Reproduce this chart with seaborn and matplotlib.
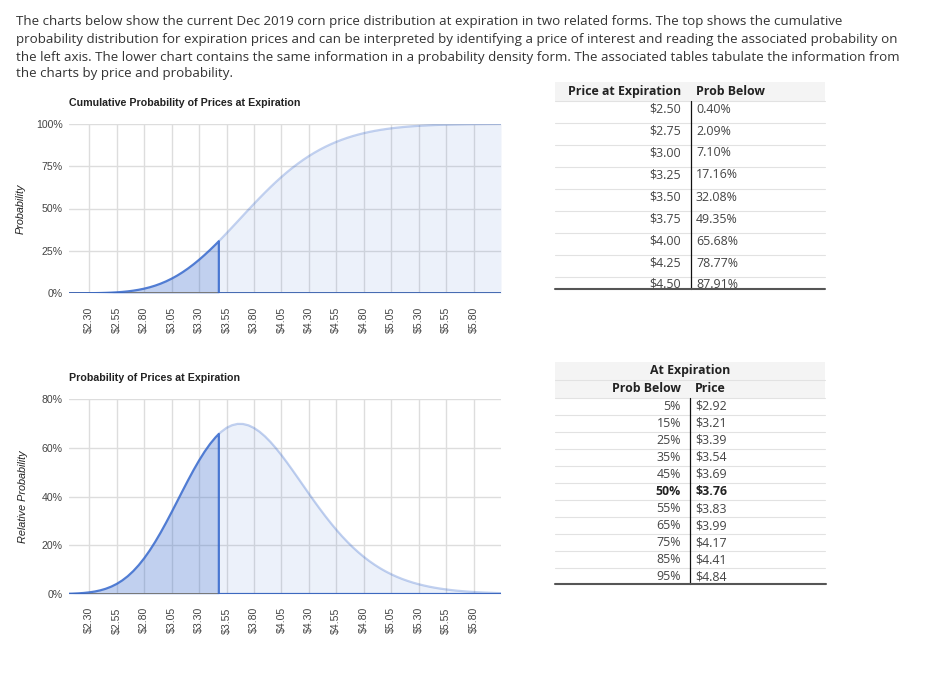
import matplotlib
matplotlib.use("Agg")
import matplotlib.pyplot as plt
from matplotlib.lines import Line2D
from matplotlib.patches import Rectangle
import seaborn as sns
import pandas as pd

# ---------------- data ----------------
prices = [2.10, 2.15, 2.20, 2.25, 2.30, 2.35, 2.40, 2.45, 2.50, 2.55,
          2.60, 2.65, 2.70, 2.75, 2.80, 2.85, 2.90, 2.95, 3.00, 3.05,
          3.10, 3.15, 3.20, 3.25, 3.30, 3.35, 3.40, 3.45, 3.50, 3.55,
          3.60, 3.65, 3.70, 3.75, 3.80, 3.85, 3.90, 3.95, 4.00, 4.05,
          4.10, 4.15, 4.20, 4.25, 4.30, 4.35, 4.40, 4.45, 4.50, 4.55,
          4.60, 4.65, 4.70, 4.75, 4.80, 4.85, 4.90, 4.95, 5.00, 5.05,
          5.10, 5.15, 5.20, 5.25, 5.30, 5.35, 5.40, 5.45, 5.50, 5.55,
          5.60, 5.65, 5.70, 5.75, 5.80, 5.85, 5.90, 5.95, 6.00, 6.05]
cum_prob = [0.01, 0.01, 0.02, 0.04, 0.07, 0.11, 0.17, 0.26, 0.39, 0.57,
            0.81, 1.13, 1.55, 2.08, 2.74, 3.55, 4.53, 5.70, 7.06, 8.64,
            10.42, 12.44, 14.67, 17.12, 19.76, 22.60, 25.60, 28.75, 32.03, 35.41,
            38.85, 42.33, 45.83, 49.31, 52.75, 56.12, 59.41, 62.60, 65.66, 68.58,
            71.36, 73.99, 76.45, 78.76, 80.90, 82.88, 84.71, 86.38, 87.90, 89.30,
            90.55, 91.68, 92.70, 93.61, 94.42, 95.14, 95.78, 96.34, 96.83, 97.27,
            97.65, 97.98, 98.27, 98.52, 98.73, 98.92, 99.08, 99.22, 99.34, 99.44,
            99.53, 99.60, 99.66, 99.72, 99.76, 99.80, 99.83, 99.86, 99.88, 99.90]
density = [0.09, 0.16, 0.27, 0.43, 0.67, 1.02, 1.50, 2.16, 3.03, 4.15,
           5.57, 7.30, 9.39, 11.85, 14.68, 17.88, 21.42, 25.26, 29.36, 33.64,
           38.02, 42.43, 46.77, 50.95, 54.87, 58.47, 61.66, 64.38, 66.59, 68.26,
           69.35, 69.89, 69.86, 69.30, 68.23, 66.71, 64.78, 62.49, 59.90, 57.08,
           54.07, 50.93, 47.72, 44.48, 41.24, 38.06, 34.97, 31.98, 29.12, 26.40,
           23.84, 21.45, 19.22, 17.17, 15.28, 13.55, 11.98, 10.55, 9.27, 8.12,
           7.09, 6.18, 5.37, 4.65, 4.02, 3.47, 2.98, 2.56, 2.20, 1.88,
           1.60, 1.36, 1.16, 0.98, 0.83, 0.70, 0.59, 0.50, 0.42, 0.35]
current_price = 3.48
cum_at_current = 30.71
dens_at_current = 65.77

tick_values = [2.30, 2.55, 2.80, 3.05, 3.30, 3.55, 3.80, 4.05, 4.30,
               4.55, 4.80, 5.05, 5.30, 5.55, 5.80]
tick_labels = ["$2.30", "$2.55", "$2.80", "$3.05", "$3.30", "$3.55", "$3.80",
               "$4.05", "$4.30", "$4.55", "$4.80", "$5.05", "$5.30", "$5.55", "$5.80"]

top_yticks = [0, 25, 50, 75, 100]
top_ylabels = ["0%", "25%", "50%", "75%", "100%"]
bot_yticks = [0, 20, 40, 60, 80]
bot_ylabels = ["0%", "20%", "40%", "60%", "80%"]

table1_prices = ["$2.50", "$2.75", "$3.00", "$3.25", "$3.50", "$3.75", "$4.00", "$4.25", "$4.50"]
table1_probs = ["0.40%", "2.09%", "7.10%", "17.16%", "32.08%", "49.35%", "65.68%", "78.77%", "87.91%"]

table2_probs = ["5%", "15%", "25%", "35%", "45%", "50%", "55%", "65%", "75%", "85%", "95%"]
table2_prices = ["$2.92", "$3.21", "$3.39", "$3.54", "$3.69", "$3.76", "$3.83", "$3.99", "$4.17", "$4.41", "$4.84"]

paragraph = [
    "The charts below show the current Dec 2019 corn price distribution at expiration in two related forms. The top shows the cumulative",
    "probability distribution for expiration prices and can be interpreted by identifying a price of interest and reading the associated probability on",
    "the left axis. The lower chart contains the same information in a probability density form. The associated tables tabulate the information from",
    "the charts by price and probability.",
]

# ---------------- style ----------------
sns.set_theme(style="white")
plt.rcParams["font.family"] = ["Liberation Sans", "DejaVu Sans"]

W, H = 944, 674
fig = plt.figure(figsize=(W / 100, H / 100), dpi=100)


def fx(px):
    return px / W


def fy(py):
    return 1 - py / H


BLUE = "#3366cc"
GRID = "#dddddd"
TXT_FONT = "Open Sans"

# ---------------- paragraph ----------------
para_y = [22, 40, 57, 74]
for line, y in zip(paragraph, para_y):
    fig.text(fx(16), fy(y), line, fontsize=9.65, color="#333333",
             family=TXT_FONT, va="center", ha="left")


# ---------------- charts ----------------
def make_chart(top_px, bottom_px, values, value_at_cur, yticks, ylabels, ymax,
               title, ylabel, ylabel_x):
    ax = fig.add_axes([fx(69), fy(bottom_px), fx(501) - fx(69), (bottom_px - top_px) / H])
    df = pd.DataFrame({"price": prices, "value": values})
    left = df[df.price < current_price]
    right = df[df.price > current_price]

    dark_x = list(left.price) + [current_price]
    dark_y = list(left.value) + [value_at_cur]
    light_x = [current_price] + list(right.price)
    light_y = [value_at_cur] + list(right.value)

    ax.fill_between(light_x, 0, light_y, color=BLUE, alpha=0.09, lw=0, zorder=2)
    ax.fill_between(dark_x, 0, dark_y, color=BLUE, alpha=0.30, lw=0, zorder=2)

    sns.lineplot(x=light_x, y=light_y, ax=ax, color=BLUE, alpha=0.30, lw=1.6,
                 sort=False, estimator=None, zorder=3)
    ax.axhline(0, color="#777777", lw=1.4, zorder=3)
    path_x = dark_x + [current_price, prices[-1]]
    path_y = dark_y + [0, 0]
    sns.lineplot(x=path_x, y=path_y, ax=ax, color=BLUE, alpha=0.85, lw=1.6,
                 sort=False, estimator=None, zorder=4)

    ax.set_xlim(2.115, 6.05)
    ax.set_ylim(0, ymax)
    ax.set_xticks(tick_values)
    ax.set_xticklabels(tick_labels, rotation=90, fontsize=7.6, color="#444444")
    ax.set_yticks(yticks)
    ax.set_yticklabels(ylabels, fontsize=7.6, color="#444444")
    ax.tick_params(axis="x", length=0, pad=9.5)
    ax.tick_params(axis="y", length=0, pad=4.5)
    ax.grid(True, color=GRID, lw=1.0)
    ax.set_axisbelow(True)
    for s in ax.spines.values():
        s.set_visible(False)
    ax.set_xlabel("")
    ax.set_ylabel(ylabel, fontsize=7.8, style="italic", color="#222222")
    ax.yaxis.set_label_coords((ylabel_x - 69) / 432, 0.5)
    fig.text(fx(69), fy(top_px - 21), title, fontsize=7.7, fontweight="bold",
             color="#222222", va="center", ha="left")
    return ax


make_chart(123.7, 293.3, cum_prob, cum_at_current, top_yticks, top_ylabels, 100,
           "Cumulative Probability of Prices at Expiration", "Probability", 25.7)
make_chart(399.3, 594.0, density, dens_at_current, bot_yticks, bot_ylabels, 80,
           "Probability of Prices at Expiration", "Relative Probability", 28)


# ---------------- tables ----------------
def hline(x0, x1, y, color="#e2e2e2", lw=0.8):
    fig.add_artist(Line2D([fx(x0), fx(x1)], [fy(y), fy(y)], transform=fig.transFigure,
                          color=color, lw=lw))


def vline(x, y0, y1, color="#111111", lw=0.9):
    fig.add_artist(Line2D([fx(x), fx(x)], [fy(y0), fy(y1)], transform=fig.transFigure,
                          color=color, lw=lw))


def bg(x0, x1, y0, y1, color="#f4f4f4"):
    fig.add_artist(Rectangle((fx(x0), fy(y1)), fx(x1) - fx(x0), (y1 - y0) / H,
                             transform=fig.transFigure, color=color, lw=0, zorder=0))


TBL_FS = 8.9
VAL_COLOR = "#444444"
HDR_COLOR = "#222222"

# top table
bg(555, 825, 82, 100.7)
fig.text(fx(681), fy(91.5), "Price at Expiration", ha="right", va="center",
         fontsize=TBL_FS, fontweight="bold", color=HDR_COLOR, family=TXT_FONT)
fig.text(fx(696), fy(91.5), "Prob Below", ha="left", va="center",
         fontsize=TBL_FS, fontweight="bold", color=HDR_COLOR, family=TXT_FONT)
row_lines1 = [100.7 + 21.99 * k for k in range(9)]
for y in row_lines1:
    hline(555, 825, y)
text_y1 = [109.3, 131.4, 152.9, 175.0, 197.2, 219.0, 241.2, 263.2, 284.0]
for p, q, y in zip(table1_prices, table1_probs, text_y1):
    fig.text(fx(681), fy(y), p, ha="right", va="center", fontsize=TBL_FS,
             color=VAL_COLOR, family=TXT_FONT)
    fig.text(fx(696), fy(y), q, ha="left", va="center", fontsize=TBL_FS,
             color=VAL_COLOR, family=TXT_FONT)
vline(690.7, 100.7, 289.3)
hline(555, 825, 289.3, color="#555555", lw=1.5)

# bottom table
bg(555, 825, 362, 380)
bg(555, 825, 380, 397.7)
hline(555, 825, 380)
fig.text(fx(690), fy(370.5), "At Expiration", ha="center", va="center",
         fontsize=TBL_FS, fontweight="bold", color=HDR_COLOR, family=TXT_FONT)
fig.text(fx(681), fy(388.5), "Prob Below", ha="right", va="center",
         fontsize=TBL_FS, fontweight="bold", color=HDR_COLOR, family=TXT_FONT)
fig.text(fx(695), fy(388.5), "Price", ha="left", va="center",
         fontsize=TBL_FS, fontweight="bold", color=HDR_COLOR, family=TXT_FONT)
row_h2 = 17.07
for k in range(11):
    hline(555, 825, 397.7 + row_h2 * k)
for k, (q, p) in enumerate(zip(table2_probs, table2_prices)):
    y = 406.2 + row_h2 * k
    bold = q == "50%"
    fig.text(fx(681), fy(y), q, ha="right", va="center", fontsize=TBL_FS,
             color=HDR_COLOR if bold else VAL_COLOR,
             fontweight="bold" if bold else "normal", family=TXT_FONT)
    fig.text(fx(695), fy(y), p, ha="left", va="center", fontsize=TBL_FS,
             color=HDR_COLOR if bold else VAL_COLOR,
             fontweight="bold" if bold else "normal", family=TXT_FONT)
vline(690, 397.7, 584.3)
hline(555, 826, 584.3, color="#555555", lw=1.5)

fig.savefig("out.png", dpi=100)
